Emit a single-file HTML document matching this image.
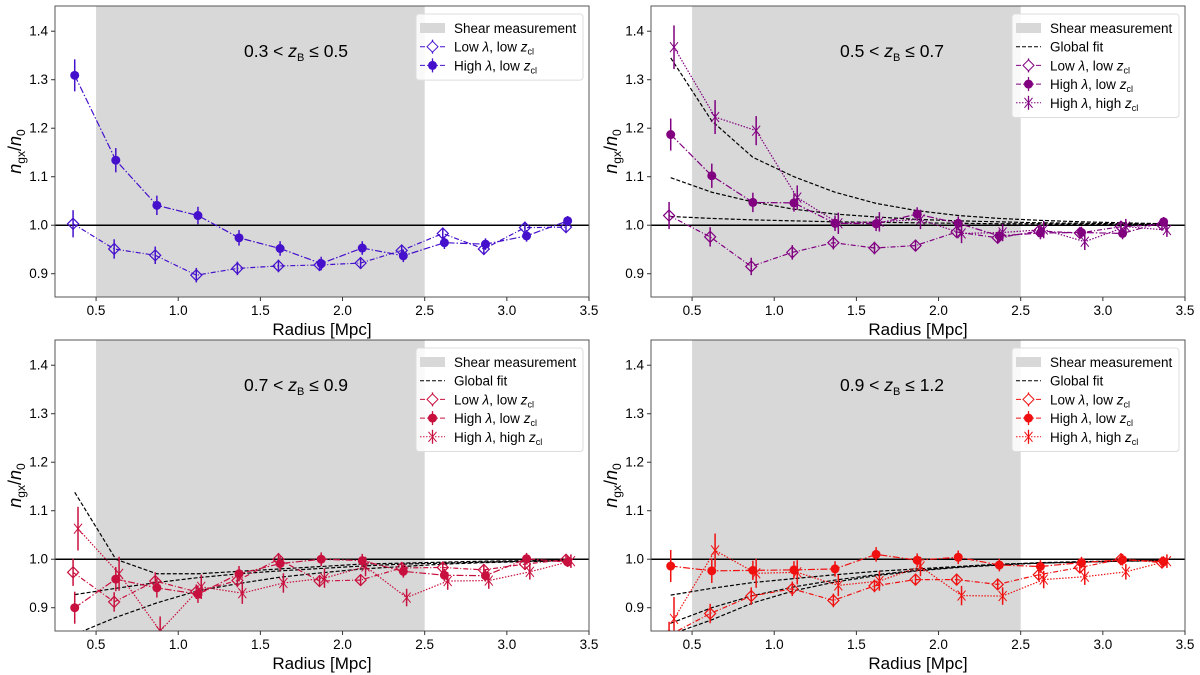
<!DOCTYPE html>
<html><head><meta charset="utf-8"><style>
html,body{margin:0;padding:0;background:#fff;}
svg{display:block;font-family:"Liberation Sans","DejaVu Sans",sans-serif;}
</style></head><body>
<svg id="fig" width="1200" height="675" viewBox="0 0 1200 675" xmlns="http://www.w3.org/2000/svg"></svg>
<script>
const radii = [0.36,0.61,0.86,1.11,1.36,1.61,1.86,2.11,2.36,2.61,2.86,3.11,3.36];
const xTicks = [0.5,1.0,1.5,2.0,2.5,3.0,3.5];
const yTicks = [0.9,1.0,1.1,1.2,1.3,1.4];
const titles = ["0.3 < ","0.5 < ","0.7 < ","0.9 < "];
const titleEnds = [" ≤ 0.5"," ≤ 0.7"," ≤ 0.9"," ≤ 1.2"];
const colors = ["#4510cc","#800080","#c8103e","#f01010"];
// panel 1
const p1Low = [1.003,0.951,0.938,0.897,0.911,0.916,0.918,0.922,0.948,0.983,0.951,0.995,0.996];
const p1High = [1.309,1.134,1.041,1.020,0.974,0.952,0.921,0.953,0.937,0.964,0.961,0.978,1.009];
// panel 2
const p2Low = [1.020,0.976,0.915,0.944,0.964,0.953,0.958,0.986,0.974,0.988,0.984,0.997,1.001];
const p2High = [1.187,1.102,1.047,1.046,1.004,1.003,1.023,1.004,0.978,0.984,0.985,0.983,1.007];
const p2HH = [1.367,1.223,1.195,1.057,1.004,1.007,1.012,0.983,0.985,0.991,0.966,0.997,0.990];
const p2FitA = [1.345,1.215,1.140,1.100,1.068,1.045,1.030,1.020,1.014,1.010,1.007,1.005,1.003];
const p2FitB = [1.098,1.068,1.048,1.033,1.023,1.017,1.012,1.009,1.007,1.005,1.004,1.003,1.002];
const p2FitC = [1.018,1.014,1.011,1.009,1.007,1.006,1.005,1.004,1.003,1.003,1.002,1.002,1.001];
// panel 3
const p3Low = [0.973,0.912,0.955,0.933,0.956,1.000,0.955,0.957,0.982,0.983,0.978,0.990,0.999];
const p3High = [0.900,0.959,0.941,0.928,0.970,0.991,1.000,0.997,0.975,0.967,0.966,1.001,0.994];
const p3HH = [1.063,0.970,0.852,0.943,0.930,0.951,0.961,0.985,0.921,0.955,0.956,0.974,0.996];
const p3FitA = [1.138,1.000,0.970,0.970,0.975,0.980,0.985,0.990,0.992,0.994,0.996,0.997,0.998];
const p3FitB = [0.927,0.940,0.952,0.962,0.970,0.976,0.981,0.986,0.990,0.992,0.994,0.996,0.997];
const p3FitC = [0.845,0.880,0.910,0.935,0.950,0.963,0.972,0.980,0.985,0.990,0.993,0.995,0.997];
// panel 4
const p4Low = [0.843,0.888,0.924,0.939,0.915,0.945,0.958,0.958,0.948,0.968,0.983,1.000,0.993];
const p4High = [0.986,0.976,0.977,0.978,0.980,1.010,0.998,1.004,0.988,0.985,0.993,0.999,0.995];
const p4HH = [0.877,1.018,0.971,0.973,0.946,0.955,0.985,0.925,0.924,0.958,0.964,0.974,0.996];
const p4FitA = [0.926,0.940,0.952,0.960,0.968,0.975,0.980,0.985,0.990,0.992,0.994,0.996,0.997];
const p4FitB = [0.868,0.900,0.925,0.943,0.957,0.968,0.977,0.984,0.989,0.993,0.995,0.997,0.998];
const p4FitC = [0.845,0.875,0.910,0.935,0.953,0.966,0.976,0.983,0.988,0.992,0.994,0.996,0.997];
const errLow = [0.028,0.02,0.018,0.015,0.014,0.013,0.012,0.012,0.012,0.012,0.012,0.012,0.01];
const errHigh = [0.033,0.025,0.02,0.018,0.016,0.015,0.014,0.014,0.013,0.013,0.012,0.012,0.01];
const errHH = [0.045,0.035,0.03,0.025,0.022,0.02,0.02,0.02,0.018,0.018,0.017,0.016,0.014];

const NS="http://www.w3.org/2000/svg";
const svg=document.getElementById('fig');
function el(tag,attrs,parent,text){const e=document.createElementNS(NS,tag);for(const k in attrs)e.setAttribute(k,attrs[k]);if(text!==undefined)e.textContent=text;(parent||svg).appendChild(e);return e;}

const panels=[
 {L:55,R:589,T:6,B:297,low:p1Low,high:p1High,hh:null,fits:[]},
 {L:651,R:1185,T:6,B:297,low:p2Low,high:p2High,hh:p2HH,fits:[p2FitA,p2FitB,p2FitC]},
 {L:55,R:589,T:340,B:631,low:p3Low,high:p3High,hh:p3HH,fits:[p3FitA,p3FitB,p3FitC]},
 {L:651,R:1185,T:340,B:631,low:p4Low,high:p4High,hh:p4HH,fits:[p4FitA,p4FitB,p4FitC]}
];
const xMin=0.25,xMax=3.5,yMin=0.852,yMax=1.452;

panels.forEach((p,i)=>{
 const c=colors[i];
 const xs=v=>p.L+(v-xMin)/(xMax-xMin)*(p.R-p.L);
 const ys=v=>p.B-(v-yMin)/(yMax-yMin)*(p.B-p.T);
 const g=el('g',{});
 
 
 const cid='clip'+i;
 const cp=el('clipPath',{id:cid},g);el('rect',{x:p.L,y:p.T,width:p.R-p.L,height:p.B-p.T},cp);
 const shade=el('rect',{x:xs(0.5),y:p.T,width:xs(2.5)-xs(0.5),height:p.B-p.T,fill:'#d8d8d8'},g);
 
 
 const ref=el('line',{x1:p.L,x2:p.R,y1:ys(1),y2:ys(1),stroke:'#000','stroke-width':1.5},g);
 
 
 const plot=el('g',{'clip-path':'url(#'+cid+')'},g);
 p.fits.forEach((f,k)=>{
  const pts=f.map((v,j)=>xs(radii[j]+0.01)+','+ys(v)).join(' ');
  const fl=el('polyline',{points:pts,fill:'none',stroke:'#000','stroke-width':1.2,'stroke-dasharray':'4,2'},plot);
  
  
 });
 function series(vals,off,err,dash,kind,name){
  const sg=el('g',{},plot);
  
  
  const pts=vals.map((v,j)=>xs(radii[j]+off)+','+ys(v)).join(' ');
  el('polyline',{points:pts,fill:'none',stroke:c,'stroke-width':1.2,'stroke-dasharray':dash},sg);
  vals.forEach((v,j)=>{
   const x=xs(radii[j]+off),y=ys(v);
   el('line',{x1:x,x2:x,y1:ys(v-err[j]),y2:ys(v+err[j]),stroke:c,'stroke-width':1.5},sg);
   if(kind==='d'){el('polygon',{points:`${x},${y-5.5} ${x+5.5},${y} ${x},${y+5.5} ${x-5.5},${y}`,fill:'none',stroke:c,'stroke-width':1.2},sg);}
   else if(kind==='o'){el('circle',{cx:x,cy:y,r:4.5,fill:c},sg);}
   else {el('path',{d:`M${x-4},${y-5}L${x+4},${y+5}M${x-4},${y+5}L${x+4},${y-5}M${x},${y-6}L${x},${y+6}`,stroke:c,'stroke-width':1},sg);}
  });
 }
 series(p.low,0,errLow,'5,2,1,2','d','low-lambda-low-z-series');
 series(p.high,0.01,errHigh,'7,2,1.5,2','o','high-lambda-low-z-series');
 if(p.hh) series(p.hh,0.03,errHH,'1.5,1.5','x','high-lambda-high-z-series');
 const fr=el('rect',{x:p.L,y:p.T,width:p.R-p.L,height:p.B-p.T,fill:'none',stroke:'#555','stroke-width':1},g);
 
 
 xTicks.forEach(t=>{const x=xs(t);el('line',{x1:x,x2:x,y1:p.B,y2:p.B+4,stroke:'#333'},g);
  const tl=el('text',{x:x,y:p.B+18,'font-size':13.5,'text-anchor':'middle',fill:'#000'},g,t.toFixed(1));
  });
 yTicks.forEach(t=>{const y=ys(t);el('line',{x1:p.L-4,x2:p.L,y1:y,y2:y,stroke:'#333'},g);
  const tl=el('text',{x:p.L-7,y:y+4.5,'font-size':13.5,'text-anchor':'end',fill:'#000'},g,t.toFixed(1));
  });
 const xl=el('text',{x:(p.L+p.R)/2,y:p.B+38,'font-size':17,'text-anchor':'middle'},g,'Radius [Mpc]');
 
 const yl=el('text',{transform:`translate(${p.L-34},${(p.T+p.B)/2}) rotate(-90)`,'font-size':18,'text-anchor':'middle'},g);
 
 yl.innerHTML='<tspan font-style="italic">n</tspan><tspan font-size="12" dy="4">gx</tspan><tspan dy="-4">/</tspan><tspan font-style="italic">n</tspan><tspan font-size="12" dy="4">0</tspan>';
 const tt=el('text',{x:p.L+241,y:p.T+51,'font-size':17.5,'text-anchor':'middle'},g);
 
 tt.innerHTML=titles[i]+'<tspan font-style="italic">z</tspan><tspan font-size="11" dy="4">B</tspan><tspan dy="-4">'+titleEnds[i]+'</tspan>';
 // legend
 const rows=[['shade','Shear measurement']];
 if(p.fits.length) rows.push(['fit','Global fit']);
 rows.push(['d','Low λ, low '],['o','High λ, low ']);
 if(p.hh) rows.push(['x','High λ, high ']);
 const lx=p.L+361,ly=p.T+8,lw=167,lh=10+rows.length*18.7;
 const lg=el('g',{},g);
 
 el('rect',{x:lx,y:ly,width:lw,height:lh,rx:3,fill:'#fff','fill-opacity':0.85,stroke:'#ddd'},lg);
 rows.forEach((r,k)=>{
  const y=ly+14+k*18.7,x0=lx+4,x1=lx+29,xm=(x0+x1)/2;
  const e=el('g',{},lg);
  
  if(r[0]==='shade') el('rect',{x:x0,y:y-5,width:25,height:10,fill:'#d8d8d8'},e);
  else if(r[0]==='fit') el('line',{x1:x0,x2:x1,y1:y,y2:y,stroke:'#000','stroke-dasharray':'4,2'},e);
  else{
   el('line',{x1:x0,x2:x1,y1:y,y2:y,stroke:c,'stroke-dasharray':r[0]==='x'?'1.5,1.5':'5,2,1,2'},e);
   el('line',{x1:xm,x2:xm,y1:y-7,y2:y+7,stroke:c,'stroke-width':1.3},e);
   if(r[0]==='d')el('polygon',{points:`${xm},${y-5.5} ${xm+5.5},${y} ${xm},${y+5.5} ${xm-5.5},${y}`,fill:'#fff',stroke:c},e);
   else if(r[0]==='o')el('circle',{cx:xm,cy:y,r:4.5,fill:c},e);
   else el('path',{d:`M${xm-4},${y-5}L${xm+4},${y+5}M${xm-4},${y+5}L${xm+4},${y-5}`,stroke:c},e);
  }
  const t=el('text',{x:lx+38,y:y+5,'font-size':13.5},e);
  if(r[0]==='shade'||r[0]==='fit') t.textContent=r[1];
  else t.innerHTML=r[1].replace('λ','<tspan font-style="italic">λ</tspan>')+'<tspan font-style="italic">z</tspan><tspan font-size="9" dy="3">cl</tspan>';
 });
});
</script>
</body></html>
